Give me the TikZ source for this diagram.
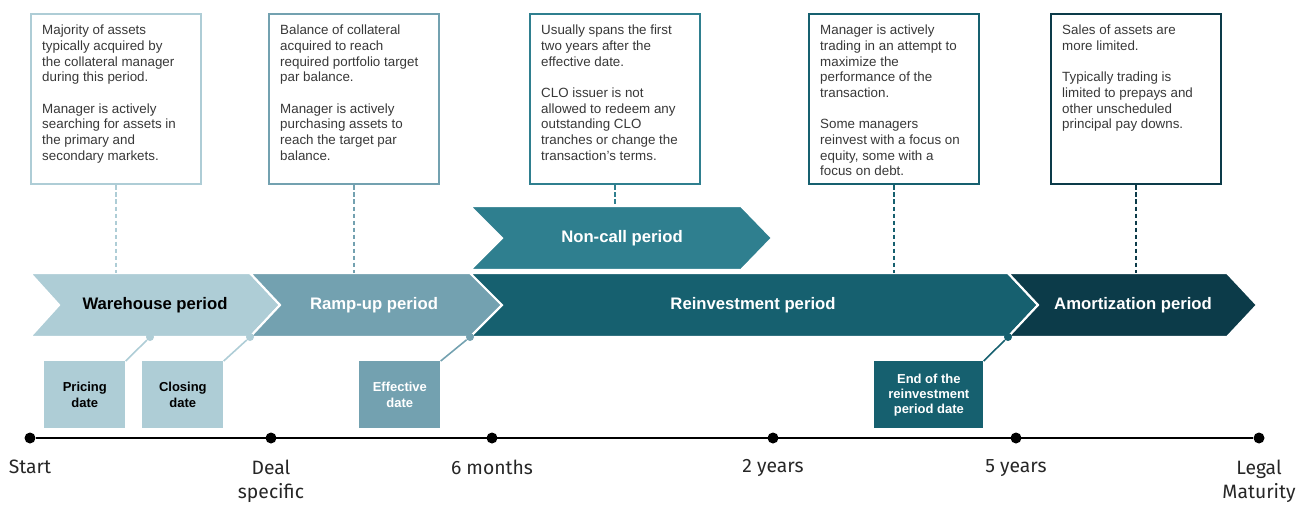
\documentclass[tikz,border=0pt]{standalone}
\usepackage{fontspec}
\setmainfont{Liberation Sans}
\newfontfamily\axisfont{Fira Sans}
\usepackage{xcolor}
\usetikzlibrary{positioning,calc}

\definecolor{cloA}{RGB}{174,205,214}
\definecolor{cloB}{RGB}{115,161,176}
\definecolor{cloC}{RGB}{47,127,143}
\definecolor{cloD}{RGB}{22,96,111}
\definecolor{cloE}{RGB}{12,59,73}

\newcommand{\notetext}[1]{\parbox[c][2.96cm][t]{2.96cm}{\raggedright #1}}

\begin{document}
\begin{tikzpicture}[x=0.02cm,y=-0.02cm,
    note/.style={draw,line width=1.4pt,fill=white,inner sep=0.22cm,anchor=north west,
      font=\fontsize{7.6}{8.9}\selectfont,text=black!78},
    guide/.style={line width=0.9pt,dash pattern=on 2.5pt off 1.5pt},
    chev/.style={draw=white,line width=1.2pt},
    phase/.style={font=\bfseries\fontsize{9.5}{11}\selectfont,text=white},
    datebox/.style={anchor=north west,minimum width=1.62cm,minimum height=1.34cm,inner sep=0pt,
      align=center,font=\bfseries\fontsize{7.4}{8.6}\selectfont},
    link/.style={line width=0.9pt},
    pindot/.style={circle,inner sep=0pt,minimum size=0.16cm},
    tdot/.style={circle,fill=black,inner sep=0pt,minimum size=0.22cm},
    tlabel/.style={font=\axisfont\fontsize{11}{14}\selectfont,align=center,inner sep=0pt,text=black!85}]
    \useasboundingbox (0,0) rectangle (1314,504);

    % notes on top
    \node[note,draw=cloA] (n1) at (30,13) {\notetext{Majority of assets\\ typically acquired by\\ the collateral manager\\ during this period.\\[\baselineskip] Manager is actively\\ searching for assets in\\ the primary and\\ secondary markets.}};
    \node[note,draw=cloB] (n2) at (268,13) {\notetext{Balance of collateral\\ acquired to reach\\ required portfolio target\\ par balance.\\[\baselineskip] Manager is actively\\ purchasing assets to\\ reach the target par\\ balance.}};
    \node[note,draw=cloC] (n3) at (529,13) {\notetext{Usually spans the first\\ two years after the\\ effective date.\\[\baselineskip] CLO issuer is not\\ allowed to redeem any\\ outstanding CLO\\ tranches or change the\\ transaction's terms.}};
    \node[note,draw=cloD] (n4) at (808,13) {\notetext{Manager is actively\\ trading in an attempt to\\ maximize the\\ performance of the\\ transaction.\\[\baselineskip] Some managers\\ reinvest with a focus on\\ equity, some with a\\ focus on debt.}};
    \node[note,draw=cloE] (n5) at (1050,13) {\notetext{Sales of assets are\\ more limited.\\[\baselineskip] Typically trading is\\ limited to prepays and\\ other unscheduled\\ principal pay downs.}};

    % periods
    \fill[cloA,chev] (30,273) -- (250,273) -- (280,305) -- (250,337) -- (30,337) -- (59,305) -- cycle;
    \fill[cloB,chev] (250,273) -- (470,273) -- (502,305) -- (470,337) -- (250,337) -- (280,305) -- cycle;
    \fill[cloD,chev] (470,273) -- (1008,273) -- (1038,305) -- (1008,337) -- (470,337) -- (502,305) -- cycle;
    \fill[cloE,chev] (1008,273) -- (1227,273) -- (1257,305) -- (1227,337) -- (1008,337) -- (1038,305) -- cycle;
    \fill[cloC,chev] (470,206) -- (741,206) -- (772,238) -- (741,270) -- (470,270) -- (502,238) -- cycle;
    \coordinate (rowtop) at (0,273);
    \coordinate (nctop) at (0,206);

    \node[phase,text=black] (warehouse) at (155,305) {Warehouse period};
    \node[phase] (rampup) at (374,305) {Ramp-up period};
    \node[phase] (noncall) at (622,238) {Non-call period};
    \node[phase] (reinvest) at (753,305) {Reinvestment period};
    \node[phase] (amort) at (1133,305) {Amortization period};

    \draw[guide,cloA] (n1.south) -- (n1.south |- rowtop);
    \draw[guide,cloB] (n2.south) -- (n2.south |- rowtop);
    \draw[guide,cloC] (n3.south) -- (n3.south |- nctop);
    \draw[guide,cloD] (n4.south) -- (n4.south |- rowtop);
    \draw[guide,cloE] (n5.south) -- (n5.south |- rowtop);

    % key dates
    \node[datebox,fill=cloA] (pricing) at (44,361) {Pricing\\date};
    \node[datebox,fill=cloA] (closing) at (142,361) {Closing\\date};
    \node[datebox,fill=cloB,text=white] (effective) at (359,361) {Effective\\date};
    \node[datebox,fill=cloD,text=white,minimum width=2.18cm] (endri) at (874,361) {End of the\\reinvestment\\period date};

    \node[pindot,fill=cloA] (pPricing) at (150,337) {};
    \node[pindot,fill=cloA] (pClosing) at (250,337) {};
    \node[pindot,fill=cloB] (pEffective) at (470,337) {};
    \node[pindot,fill=cloD] (pEnd) at (1008,337) {};
    \draw[link,cloA] (pricing.north east) -- (pPricing);
    \draw[link,cloA] (closing.north east) -- (pClosing);
    \draw[link,cloB] (effective.north east) -- (pEffective);
    \draw[link,cloD] (endri.north east) -- (pEnd);

    % timeline
    \node[tdot] (t0) at (30,438) {};
    \node[tdot] (t1) at (271,438) {};
    \node[tdot] (t2) at (492,438) {};
    \node[tdot] (t3) at (773,438) {};
    \node[tdot] (t4) at (1016,438) {};
    \node[tdot] (t5) at (1259,438) {};
    \draw[line width=1.1pt] (t0) -- (t5);

    \node[tlabel,below=0.31cm of t0] (l0) {Start};
    \node[tlabel,below=0.31cm of t1] (l1) {Deal\\specific};
    \node[tlabel,below=0.31cm of t2] (l2) {6 months};
    \node[tlabel,below=0.31cm of t3] (l3) {2 years};
    \node[tlabel,below=0.31cm of t4] (l4) {5 years};
    \node[tlabel,below=0.31cm of t5] (l5) {Legal\\Maturity};
\end{tikzpicture}
\end{document}
